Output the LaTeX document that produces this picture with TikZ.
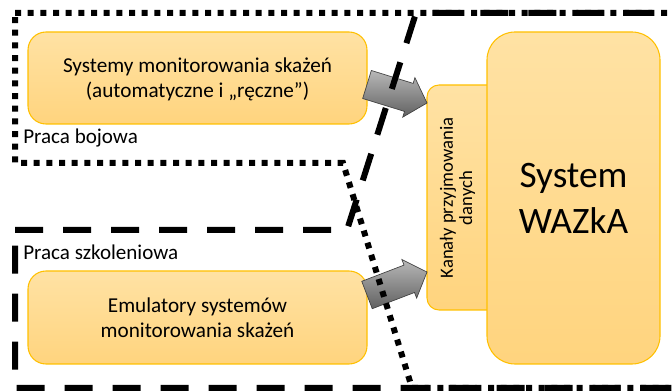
\documentclass[tikz,border=0pt]{standalone}
\usepackage{fontspec}
\setmainfont{Carlito}
\usetikzlibrary{calc}
\definecolor{boxtop}{HTML}{FFE2A4}
\definecolor{boxbot}{HTML}{FFD47E}
\definecolor{boxline}{HTML}{FFC000}
\tikzset{
  ybox/.style={top color=boxtop, bottom color=boxbot, draw=boxline, line width=0.8pt},
  dotline/.style={line width=4.5pt, dash pattern=on 4.5pt off 5pt, line cap=butt},
  dashline/.style={line width=4.5pt, dash pattern=on 21pt off 15pt, line cap=butt},
  blockarrow/.style={top color=black!28, bottom color=black!62, draw=black!75, line width=0.5pt},
}
\begin{document}
\begin{tikzpicture}[x=0.75pt,y=-0.75pt]
\useasboundingbox (0,0) rectangle (672,391);
% boxes
\draw[ybox, rounded corners=13.5pt] (28,32) rectangle (367,124);
\node[font=\fontsize{15.9}{18.75}\selectfont, align=center] (sys) at (197.5,79) {Systemy monitorowania skażeń\\(automatyczne i „ręczne”)};
\coordinate (b1) at (367,84.5);
\draw[ybox, rounded corners=13.5pt] (28,271) rectangle (367,364);
\node[font=\fontsize{15.9}{18.75}\selectfont, align=center] (emu) at (197.5,317.5) {Emulatory systemów\\monitorowania skażeń};
\coordinate (b2) at (367,295);
\draw[ybox, rounded corners=9pt] (427,85) rectangle (500,310);
\draw[ybox, rounded corners=21pt] (487,32) rectangle (660,364);
\node[font=\fontsize{14}{14.5}\selectfont, align=center, rotate=90] (kan) at (457.5,198) {Kanały przyjmowania\\danych};
\node[font=\fontsize{28}{34.5}\selectfont, align=center] (waz) at (573.5,198) {System\\WAZkA};
\coordinate (k1) at (427,103);
\coordinate (k2) at (427,272);
% labels
\node[font=\fontsize{15.8}{18}\selectfont, anchor=base west, inner sep=0pt] (pb) at (23,144) {Praca bojowa};
\node[font=\fontsize{15.8}{18}\selectfont, anchor=base west, inner sep=0pt] (ps) at (23,260) {Praca szkoleniowa};
% block arrows
\foreach \s/\t in {b1/k1, b2/k2}{
  \draw[blockarrow]
    ($(\s)!11pt!90:(\t)$) --
    ($(\t)!14.25pt!(\s)!11pt!-90:(\s)$) --
    ($(\t)!14.25pt!(\s)!15.5pt!-90:(\s)$) --
    (\t) --
    ($(\t)!14.25pt!(\s)!15.5pt!90:(\s)$) --
    ($(\t)!14.25pt!(\s)!11pt!90:(\s)$) --
    ($(\s)!11pt!-90:(\t)$) -- cycle;
}
% region borders
\draw[dotline] (15,13) -- (675,13) -- (675,388) -- (412,388) -- (343,163) -- (15,163) -- cycle;
\draw[dashline] (15,230) -- (347,230) -- (416,13) -- (675,13) -- (675,388) -- (15,388) -- cycle;
\end{tikzpicture}
\end{document}
